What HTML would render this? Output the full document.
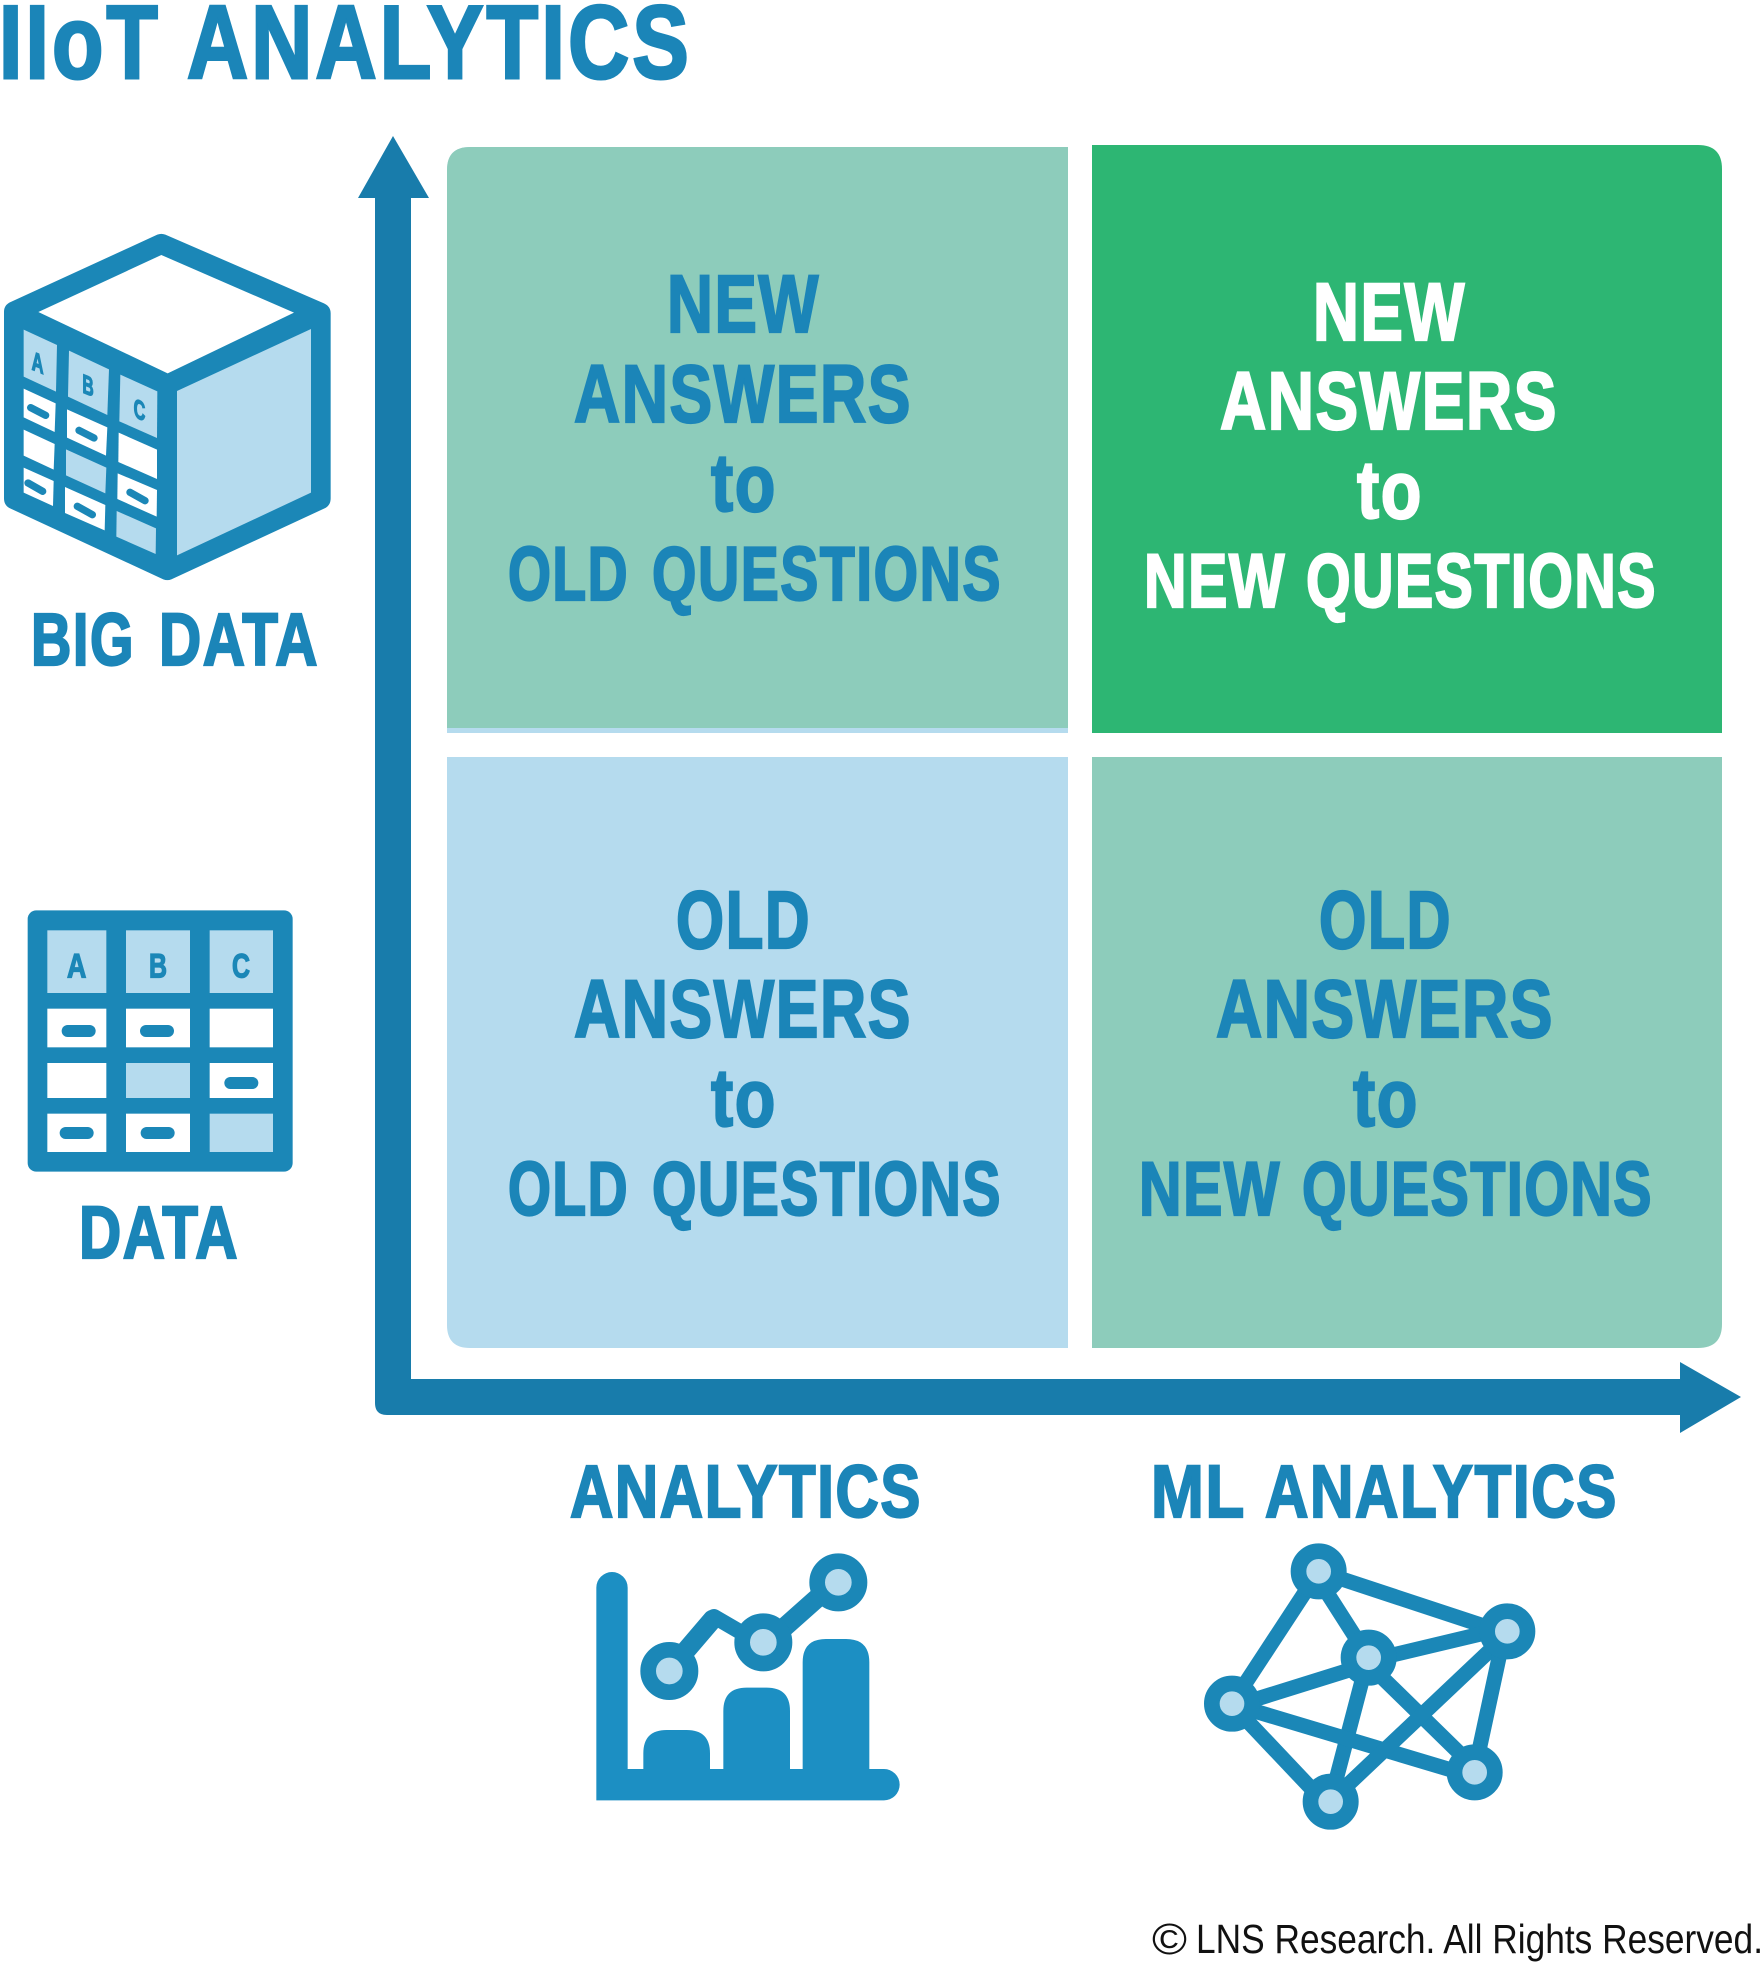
<!DOCTYPE html>
<html lang="en">
<head>
<meta charset="utf-8">
<title>IIoT Analytics</title>
<style>
html,body{margin:0;padding:0;background:#fff;width:1761px;height:1963px;overflow:hidden}
svg{display:block}
.t{font-family:"Liberation Sans Narrow","Liberation Sans",sans-serif;font-weight:700;fill:#1B85B8;stroke:#1B85B8;stroke-width:2.2;paint-order:stroke;letter-spacing:2px}
.w{fill:#fff;stroke:#fff}
.c{font-family:"Liberation Sans Narrow","Liberation Sans",sans-serif;font-weight:400;fill:#111}
</style>
</head>
<body>
<svg width="1761" height="1963" viewBox="0 0 1761 1963" xmlns="http://www.w3.org/2000/svg">
<rect width="1761" height="1963" fill="#fff"/>

<!-- Title -->
<text class="t" x="-1" y="78" font-size="104" textLength="162" lengthAdjust="spacingAndGlyphs" style="stroke-width:3;letter-spacing:4px">IIoT</text>
<text class="t" x="187" y="78" font-size="104" textLength="505" lengthAdjust="spacingAndGlyphs" style="stroke-width:3;letter-spacing:4px">ANALYTICS</text>

<!-- Quadrants -->
<path d="M447 733V170Q447 147 470 147H1068V733Z" fill="#B5DBEE"/>
<path d="M447 728V170Q447 147 470 147H1068V728Z" fill="#8DCCBB"/>
<path d="M1092 145H1698Q1722 145 1722 169V733H1092Z" fill="#2DB673"/>
<path d="M447 757H1068V1348H470Q447 1348 447 1325Z" fill="#B5DBEE"/>
<path d="M1092 757H1722V1324Q1722 1348 1698 1348H1092Z" fill="#8DCCBB"/>

<!-- Axes -->
<path d="M393 136L429 198H411V1379H1680V1362L1741 1397L1680 1433V1415H387Q375 1415 375 1403V198H358Z" fill="#187CAB"/>

<!-- TL text -->
<text class="t" x="667" y="332" font-size="82" textLength="153" lengthAdjust="spacingAndGlyphs">NEW</text>
<text class="t" x="574" y="422" font-size="82" textLength="338" lengthAdjust="spacingAndGlyphs">ANSWERS</text>
<text class="t" x="711" y="511" font-size="82" textLength="66" lengthAdjust="spacingAndGlyphs">to</text>
<text class="t" x="508" y="600" font-size="76" textLength="121" lengthAdjust="spacingAndGlyphs">OLD</text>
<text class="t" x="652" y="600" font-size="76" textLength="350" lengthAdjust="spacingAndGlyphs">QUESTIONS</text>

<!-- TR text -->
<text class="t w" x="1313" y="340" font-size="82" textLength="153" lengthAdjust="spacingAndGlyphs">NEW</text>
<text class="t w" x="1220" y="429" font-size="82" textLength="338" lengthAdjust="spacingAndGlyphs">ANSWERS</text>
<text class="t w" x="1357" y="518" font-size="82" textLength="66" lengthAdjust="spacingAndGlyphs">to</text>
<text class="t w" x="1144" y="607" font-size="76" textLength="142" lengthAdjust="spacingAndGlyphs">NEW</text>
<text class="t w" x="1306" y="607" font-size="76" textLength="351" lengthAdjust="spacingAndGlyphs">QUESTIONS</text>

<!-- BL text -->
<text class="t" x="676" y="948" font-size="82" textLength="135" lengthAdjust="spacingAndGlyphs">OLD</text>
<text class="t" x="574" y="1037" font-size="82" textLength="338" lengthAdjust="spacingAndGlyphs">ANSWERS</text>
<text class="t" x="711" y="1126" font-size="82" textLength="66" lengthAdjust="spacingAndGlyphs">to</text>
<text class="t" x="508" y="1215" font-size="76" textLength="121" lengthAdjust="spacingAndGlyphs">OLD</text>
<text class="t" x="652" y="1215" font-size="76" textLength="350" lengthAdjust="spacingAndGlyphs">QUESTIONS</text>

<!-- BR text -->
<text class="t" x="1319" y="948" font-size="82" textLength="133" lengthAdjust="spacingAndGlyphs">OLD</text>
<text class="t" x="1216" y="1037" font-size="82" textLength="338" lengthAdjust="spacingAndGlyphs">ANSWERS</text>
<text class="t" x="1353" y="1126" font-size="82" textLength="66" lengthAdjust="spacingAndGlyphs">to</text>
<text class="t" x="1139" y="1215" font-size="76" textLength="142" lengthAdjust="spacingAndGlyphs">NEW</text>
<text class="t" x="1302" y="1215" font-size="76" textLength="351" lengthAdjust="spacingAndGlyphs">QUESTIONS</text>

<!-- Side and bottom labels -->
<text class="t" x="31" y="665" font-size="74" textLength="104" lengthAdjust="spacingAndGlyphs">BIG</text>
<text class="t" x="159" y="665" font-size="74" textLength="160" lengthAdjust="spacingAndGlyphs">DATA</text>
<text class="t" x="79" y="1258" font-size="74" textLength="160" lengthAdjust="spacingAndGlyphs">DATA</text>
<text class="t" x="570" y="1517" font-size="74" textLength="352" lengthAdjust="spacingAndGlyphs">ANALYTICS</text>
<text class="t" x="1151" y="1517" font-size="74" textLength="95" lengthAdjust="spacingAndGlyphs">ML</text>
<text class="t" x="1265" y="1517" font-size="74" textLength="353" lengthAdjust="spacingAndGlyphs">ANALYTICS</text>

<!-- Copyright -->
<text class="c" x="1152" y="1954" font-size="44" textLength="35" lengthAdjust="spacingAndGlyphs">©</text>
<text class="c" x="1196" y="1953" font-size="41" textLength="567" lengthAdjust="spacingAndGlyphs">LNS Research. All Rights Reserved.</text>

<!-- Big data cube -->
<g transform="translate(0,200) scale(0.33333)">
  <path d="M472 104Q484 99 496 104L972 310Q992 319 992 340V895Q992 917 972 926L514 1138Q502 1143 490 1138L32 926Q12 917 12 895V335Q12 315 32 306Z" fill="#1B87B7"/>
  <polygon points="484,165 882,338 503,520 115,336" fill="#fff"/>
  <polygon points="531,573 933,387 933,878 531,1066" fill="#B5DBEE"/>
  <g fill="#B5DBEE">
    <polygon points="71,389 171,435 168,575 71,530"/>
    <polygon points="207,452 327,508 322,645 204,590"/>
    <polygon points="361,524 472,574 471,714 358,664"/>
    <polygon points="198,748 319,803 316,880 198,826"/>
    <polygon points="350,933 468,985 467,1062 349,1010"/>
  </g>
  <g fill="#fff">
    <polygon points="71,566 167,610 164,696 71,652"/>
    <polygon points="201,628 322,682 318,767 201,713"/>
    <polygon points="71,689 164,732 161,809 71,767"/>
    <polygon points="356,698 471,749 471,837 355,786"/>
    <polygon points="71,803 161,843 159,918 71,878"/>
    <polygon points="195,861 316,915 314,991 195,939"/>
    <polygon points="353,820 471,870 470,950 352,897"/>
  </g>
  <g stroke="#1B87B7" stroke-width="22" stroke-linecap="round" fill="none">
    <line x1="92" y1="623" x2="137" y2="646"/>
    <line x1="237" y1="691" x2="282" y2="714"/>
    <line x1="390" y1="877" x2="435" y2="902"/>
    <line x1="84" y1="849" x2="128" y2="874"/>
    <line x1="232" y1="919" x2="277" y2="944"/>
  </g>
  <g font-family="'Liberation Sans Narrow','Liberation Sans',sans-serif" font-weight="700" font-size="80" fill="#1B87B7" stroke="#1B87B7" stroke-width="4">
    <text transform="translate(95,508) skewY(22)" textLength="36" lengthAdjust="spacingAndGlyphs">A</text>
    <text transform="translate(247,577) skewY(22)" textLength="34" lengthAdjust="spacingAndGlyphs">B</text>
    <text transform="translate(401,650) skewY(22)" textLength="35" lengthAdjust="spacingAndGlyphs">C</text>
  </g>
</g>

<!-- Data table -->
<g transform="translate(0,880) scale(0.33333)">
  <rect x="83" y="91" width="795" height="784" rx="26" fill="#1B87B7"/>
  <g fill="#B5DBEE">
    <rect x="142" y="151" width="177" height="188"/>
    <rect x="378" y="151" width="192" height="188"/>
    <rect x="629" y="151" width="190" height="188"/>
    <rect x="378" y="549" width="192" height="105"/>
    <rect x="629" y="701" width="190" height="115"/>
  </g>
  <g fill="#fff">
    <rect x="142" y="386" width="177" height="116"/>
    <rect x="378" y="386" width="192" height="116"/>
    <rect x="629" y="386" width="190" height="116"/>
    <rect x="142" y="549" width="177" height="105"/>
    <rect x="629" y="549" width="190" height="105"/>
    <rect x="142" y="701" width="177" height="115"/>
    <rect x="378" y="701" width="192" height="115"/>
  </g>
  <g fill="#1B87B7">
    <rect x="185" y="435" width="102" height="36" rx="18"/>
    <rect x="420" y="435" width="102" height="36" rx="18"/>
    <rect x="673" y="591" width="102" height="36" rx="18"/>
    <rect x="179" y="741" width="102" height="36" rx="18"/>
    <rect x="422" y="741" width="102" height="36" rx="18"/>
  </g>
  <g font-family="'Liberation Sans Narrow','Liberation Sans',sans-serif" font-weight="700" font-size="104" fill="#1B87B7" stroke="#1B87B7" stroke-width="4">
    <text x="201" y="292" textLength="58" lengthAdjust="spacingAndGlyphs">A</text>
    <text x="447" y="292" textLength="54" lengthAdjust="spacingAndGlyphs">B</text>
    <text x="696" y="292" textLength="54" lengthAdjust="spacingAndGlyphs">C</text>
  </g>
</g>

<!-- Analytics chart -->
<g transform="translate(560,1430) scale(0.33333)">
  <path d="M109 473A47 47 0 0 1 203 473V1017H250V970Q250 900 320 900H380Q450 900 450 970V1017H490V843Q490 773 560 773H620Q690 773 690 843V1017H728V697Q728 627 798 627H858Q928 627 928 697V1017H972A47 47 0 0 1 972 1111H109Z" fill="#1C8FC3"/>
  <g fill="none" stroke="#1B87B7" stroke-linecap="round">
    <line x1="328" y1="720" x2="458" y2="568" stroke-width="58"/>
    <polyline points="462,560 610,646" stroke-width="46"/>
    <line x1="610" y1="648" x2="835" y2="448" stroke-width="58" stroke-linecap="butt"/>
  </g>
  <g fill="#B5DBEE" stroke="#1B87B7" stroke-width="47">
    <circle cx="328" cy="723" r="63.5"/>
    <circle cx="610" cy="637" r="63.5"/>
    <circle cx="835" cy="457" r="63.5"/>
  </g>
</g>

<!-- ML network -->
<g transform="translate(1170,1430) scale(0.33333)">
  <g stroke="#1B87B7" stroke-width="45" fill="none">
    <line x1="446" y1="424" x2="1012" y2="611"/>
    <line x1="446" y1="424" x2="186" y2="821"/>
    <line x1="430" y1="424" x2="600" y2="690"/>
    <line x1="596" y1="692" x2="1012" y2="593"/>
    <line x1="596" y1="702" x2="186" y2="830"/>
    <line x1="596" y1="676" x2="482" y2="1111"/>
    <line x1="596" y1="703" x2="914" y2="1014"/>
    <line x1="186" y1="823" x2="914" y2="1041"/>
    <line x1="186" y1="824" x2="482" y2="1137"/>
    <line x1="482" y1="1113" x2="1012" y2="612"/>
    <line x1="913" y1="1027" x2="1004" y2="604"/>
  </g>
  <g fill="#B5DBEE" stroke="#1B87B7" stroke-width="47">
    <circle cx="446" cy="424" r="60.5"/>
    <circle cx="1012" cy="604" r="60.5"/>
    <circle cx="596" cy="683" r="60.5"/>
    <circle cx="186" cy="821" r="60.5"/>
    <circle cx="914" cy="1027" r="60.5"/>
    <circle cx="482" cy="1115" r="60.5"/>
  </g>
</g>
</svg>
</body>
</html>
